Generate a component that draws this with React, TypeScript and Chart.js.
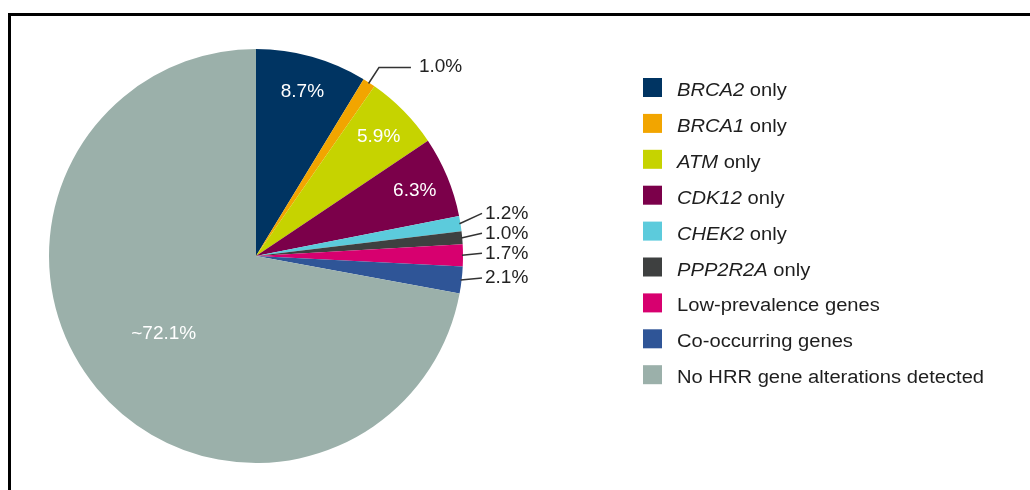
import React, { useEffect, useRef } from "react";
import { Chart, registerables } from "chart.js";

Chart.register(...registerables);

const categories = [
  "BRCA2 only",
  "BRCA1 only",
  "ATM only",
  "CDK12 only",
  "CHEK2 only",
  "PPP2R2A only",
  "Low-prevalence genes",
  "Co-occurring genes",
  "No HRR gene alterations detected",
];
const values = [8.7, 1.0, 5.9, 6.3, 1.2, 1.0, 1.7, 2.1, 72.1];
const sliceLabels = ["8.7%", "1.0%", "5.9%", "6.3%", "1.2%", "1.0%", "1.7%", "2.1%", "~72.1%"];
const colors = [
  "#003462",
  "#F2A500",
  "#C6D300",
  "#7B004A",
  "#5CCBDC",
  "#3E4040",
  "#D7006F",
  "#2F5597",
  "#9BB0AA",
];

const FONT = '"Liberation Sans", Arial, sans-serif';

const framePlugin = {
  id: "frame",
  beforeDraw(chart: any) {
    const ctx = chart.ctx;
    ctx.save();
    ctx.fillStyle = "#ffffff";
    ctx.fillRect(0, 0, chart.width, chart.height);
    ctx.fillStyle = "#000000";
    ctx.fillRect(8, 13, chart.width - 8, 3);
    ctx.fillRect(8, 13, 3, chart.height - 13);
    ctx.restore();
  },
};

const labelPlugin = {
  id: "sliceLabels",
  afterDatasetsDraw(chart: any) {
    const ctx = chart.ctx;
    const meta = chart.getDatasetMeta(0);
    const data = chart.data.datasets[0].data as number[];
    const right: any[] = [];
    ctx.save();
    meta.data.forEach((arc: any, i: number) => {
      const p = arc.getProps(["x", "y", "startAngle", "endAngle", "outerRadius"], true);
      const mid = (p.startAngle + p.endAngle) / 2;
      const cx = p.x, cy = p.y, r = p.outerRadius;
      const v = data[i];
      const text = sliceLabels[i];
      if (v >= 3) {
        const f = v > 50 ? 0.58 : 0.83;
        ctx.font = `19px ${FONT}`;
        ctx.fillStyle = "#ffffff";
        ctx.textAlign = "center";
        ctx.textBaseline = "middle";
        ctx.fillText(text, cx + Math.cos(mid) * r * f, cy + Math.sin(mid) * r * f + 1);
      } else {
        const ex = cx + Math.cos(mid) * (r - 1);
        const ey = cy + Math.sin(mid) * (r - 1);
        if (ey < cy - r * 0.5) {
          const ox = cx + Math.cos(mid) * (r + 18);
          const oy = cy + Math.sin(mid) * (r + 18);
          ctx.strokeStyle = "#333333";
          ctx.lineWidth = 1.5;
          ctx.beginPath();
          ctx.moveTo(ex, ey);
          ctx.lineTo(ox, oy);
          ctx.lineTo(ox + 32, oy);
          ctx.stroke();
          ctx.font = `19px ${FONT}`;
          ctx.fillStyle = "#222222";
          ctx.textAlign = "left";
          ctx.textBaseline = "middle";
          ctx.fillText(text, ox + 40, oy - 1);
        } else {
          right.push({ ex, ey, text, cx, r });
        }
      }
    });
    right.sort((a, b) => b.ey - a.ey);
    let prev = Infinity;
    right.forEach((o) => {
      const ty = Math.min(o.ey - 3, prev - 20);
      prev = ty;
      const lx = o.cx + o.r + 19;
      ctx.strokeStyle = "#333333";
      ctx.lineWidth = 1.5;
      ctx.beginPath();
      ctx.moveTo(o.ex, o.ey);
      ctx.lineTo(lx, ty + 1);
      ctx.stroke();
      ctx.font = `19px ${FONT}`;
      ctx.fillStyle = "#222222";
      ctx.textAlign = "left";
      ctx.textBaseline = "middle";
      ctx.fillText(o.text, lx + 3, ty + 1);
    });
    ctx.restore();
  },
};

const legendPlugin = {
  id: "customLegend",
  afterDraw(chart: any) {
    const ctx = chart.ctx;
    const labels = chart.data.labels as string[];
    const bg = chart.data.datasets[0].backgroundColor as string[];
    ctx.save();
    labels.forEach((lab, i) => {
      const yc = 87.5 + i * 35.9;
      ctx.fillStyle = bg[i];
      ctx.fillRect(643, yc - 9.5, 19, 19);
      let italicPart = "";
      let rest = lab;
      if (lab.endsWith(" only")) {
        italicPart = lab.slice(0, lab.length - 5);
        rest = " only";
      }
      ctx.save();
      ctx.translate(677, yc + 8.5);
      ctx.scale(1.12, 1);
      ctx.fillStyle = "#1e1e1e";
      ctx.textAlign = "left";
      ctx.textBaseline = "alphabetic";
      let x = 0;
      if (italicPart) {
        ctx.font = `italic 18px ${FONT}`;
        ctx.fillText(italicPart, x, 0);
        x += ctx.measureText(italicPart).width;
      }
      ctx.font = `18px ${FONT}`;
      ctx.fillText(rest, x, 0);
      ctx.restore();
    });
    ctx.restore();
  },
};

export default function App() {
  const ref = useRef<HTMLCanvasElement | null>(null);
  useEffect(() => {
    if (!ref.current) return;
    const chart = new Chart(ref.current, {
      type: "pie",
      data: {
        labels: categories,
        datasets: [
          {
            data: values,
            backgroundColor: colors,
            borderWidth: 0,
            hoverOffset: 0,
            offset: 0,
          } as any,
        ],
      },
      options: {
        responsive: false,
        animation: false,
        layout: { padding: { left: 49, top: 49, right: 567, bottom: 27 } },
        plugins: {
          legend: { display: false },
          tooltip: { enabled: false },
        },
      },
      plugins: [framePlugin, labelPlugin, legendPlugin],
    });
    return () => chart.destroy();
  }, []);
  return (
    <div style={{ position: "absolute", left: 0, top: 0, width: 1030, height: 490, overflow: "hidden", background: "#fff" }}>
      <canvas ref={ref} width={1030} height={490} style={{ display: "block", width: 1030, height: 490 }} />
    </div>
  );
}
